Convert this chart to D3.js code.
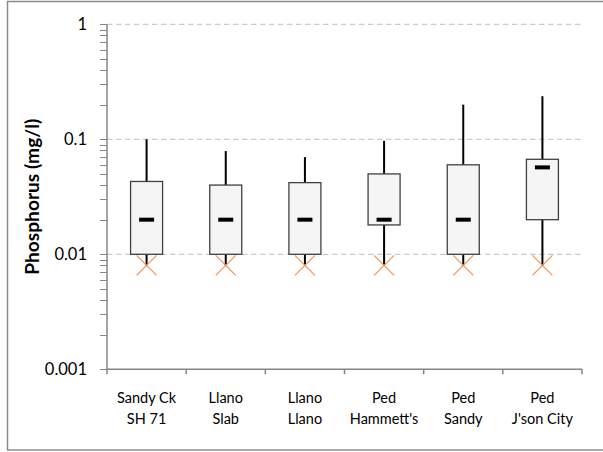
<!DOCTYPE html>
<html><head><meta charset="utf-8">
<script src="https://cdn.jsdelivr.net/npm/d3@7"></script>
<style>body{margin:0;background:#fff}svg{display:block}</style>
</head><body>
<script>
const categories = [["Sandy Ck","SH 71"],["Llano","Slab"],["Llano","Llano"],["Ped","Hammett's"],["Ped","Sandy"],["Ped","J'son City"]];
const whiskerMin = [0.008,0.008,0.008,0.008,0.008,0.008];
const q1 = [0.01,0.01,0.01,0.018,0.01,0.02];
const median = [0.02,0.02,0.02,0.02,0.02,0.057];
const q3 = [0.043,0.040,0.042,0.050,0.060,0.067];
const whiskerMax = [0.10,0.079,0.070,0.097,0.20,0.237];
const markerValues = [0.008,0.008,0.008,0.008,0.008,0.008];
const yTicks = [0.001,0.01,0.1,1];
const yTickLabels = ["0.001","0.01","0.1","1"];

const W=603,H=452;
const svg=d3.select("body").append("svg").attr("width",W).attr("height",H);
const font="Lato, 'Open Sans', sans-serif";
svg.append("rect").attr("x",7.5).attr("y",1.5).attr("width",610).attr("height",448.5)
  .attr("fill","#fff").attr("stroke","#8c8c8c").attr("stroke-width",1.5);

const L=107,R=582,T=24.3,B=369.3;
const x=d3.scaleBand().domain(d3.range(categories.length)).range([L,R]);
const y=d3.scaleLog().domain([0.001,1]).range([B,T]);

// gridlines
svg.append("g").selectAll("line").data(yTicks.filter(d=>d>0.001)).join("line")
  .attr("x1",L).attr("x2",R).attr("y1",d=>y(d)).attr("y2",d=>y(d))
  .attr("stroke","#bfbfbf").attr("stroke-width",1).attr("stroke-dasharray","5.5,3.5");

// minor ticks
const minor=[];
for(let e=-3;e<0;e++) for(let m=2;m<=9;m++) minor.push(m*Math.pow(10,e));
const axisCol="#868686";
svg.append("g").selectAll("line").data(minor.concat(yTicks)).join("line")
  .attr("x1",L-7).attr("x2",L).attr("y1",d=>Math.round(y(d))+0.5).attr("y2",d=>Math.round(y(d))+0.5)
  .attr("stroke",axisCol).attr("stroke-width",1);

// y axis line
svg.append("line").attr("x1",L).attr("x2",L).attr("y1",T).attr("y2",B).attr("stroke",axisCol).attr("stroke-width",1.5);
// y tick labels
svg.append("g").selectAll("text").data(yTicks).join("text")
  .attr("x",87).attr("y",d=>y(d)).attr("dy","0.36em").attr("text-anchor","end")
  .attr("font-family",font).attr("font-size",16.5).attr("fill","#000")
  .text((d,i)=>yTickLabels[i]);

// x axis
svg.append("line").attr("x1",L).attr("x2",R).attr("y1",B).attr("y2",B).attr("stroke",axisCol).attr("stroke-width",1.5);
const bounds=d3.range(categories.length+1).map(i=>i<categories.length?x(i):x(categories.length-1)+x.bandwidth());
svg.append("g").selectAll("line").data(bounds).join("line")
  .attr("x1",d=>d).attr("x2",d=>d).attr("y1",B).attr("y2",B+5).attr("stroke",axisCol).attr("stroke-width",1.5);
const lab=svg.append("g").selectAll("text").data(categories).join("text")
  .attr("text-anchor","middle").attr("font-family",font).attr("font-size",14.5).attr("fill","#000");
lab.each(function(d,i){
  const t=d3.select(this);
  d.forEach((s,k)=>t.append("tspan").attr("x",x(i)+x.bandwidth()/2).attr("y",403+k*20.5).text(s));
});

// y title
svg.append("text").attr("transform",`translate(33,${(T+B)/2}) rotate(-90)`)
  .attr("text-anchor","middle").attr("dy","0.35em").attr("font-family",font).attr("font-weight","bold").attr("font-size",18)
  .attr("textLength",156).attr("lengthAdjust","spacingAndGlyphs")
  .text("Phosphorus (mg/l)");

const cx=i=>x(i)+x.bandwidth()/2;
const bw=32;
const g=svg.append("g");
categories.forEach((c,i)=>{
  g.append("line").attr("x1",cx(i)).attr("x2",cx(i)).attr("y1",y(q3[i])).attr("y2",y(whiskerMax[i])).attr("stroke","#000").attr("stroke-width",2);
  g.append("line").attr("x1",cx(i)).attr("x2",cx(i)).attr("y1",y(q1[i])).attr("y2",y(whiskerMin[i])).attr("stroke","#000").attr("stroke-width",2);
  g.append("rect").attr("x",cx(i)-bw/2).attr("y",y(q3[i])).attr("width",bw).attr("height",y(q1[i])-y(q3[i]))
    .attr("fill","#f5f5f5").attr("stroke","#404040").attr("stroke-width",1.3);
  g.append("line").attr("x1",cx(i)-7.5).attr("x2",cx(i)+7.5).attr("y1",y(median[i])).attr("y2",y(median[i])).attr("stroke","#000").attr("stroke-width",4);
  const my=y(markerValues[i]), s=10;
  g.append("path").attr("d",`M${cx(i)-s},${my-s}L${cx(i)+s},${my+s}M${cx(i)-s},${my+s}L${cx(i)+s},${my-s}`)
    .attr("stroke","#ee9455").attr("stroke-width",1.2).attr("fill","none");
});
</script>
</body></html>
